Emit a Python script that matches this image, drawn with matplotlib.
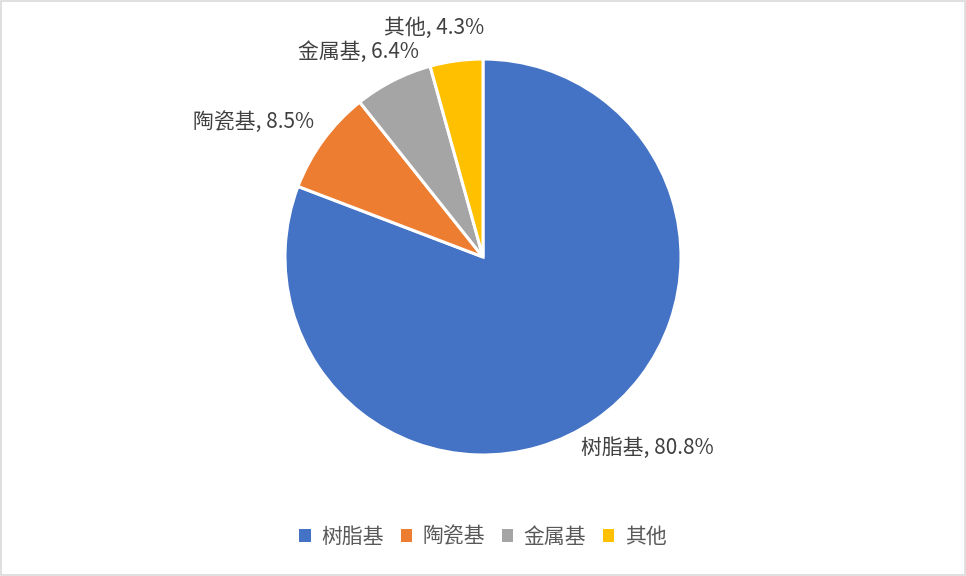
import matplotlib
matplotlib.use("Agg")
import matplotlib.pyplot as plt
from matplotlib.patches import Patch, Rectangle

plt.rcParams['font.family'] = ['Noto Sans CJK SC', 'DejaVu Sans']

categories = ["树脂基", "陶瓷基", "金属基", "其他"]
shares = [80.8, 8.5, 6.4, 4.3]
colors = ["#4472C4", "#ED7D31", "#A5A5A5", "#FFC000"]
label_pos = [(0.83, -0.965), (-1.157, 0.682), (-0.631, 1.035), (-0.247, 1.157)]

fig = plt.figure(figsize=(9.66, 5.76), dpi=100)
fig.patch.set_facecolor("white")
fig.add_artist(Rectangle((0.001, 0.001), 0.998, 0.997, transform=fig.transFigure,
                         fill=False, edgecolor="#d9d9d9", linewidth=1.2))

cx, cy, r = 483, 576 - 257, 198
ax = fig.add_axes([(cx - r) / 966, (cy - r) / 576, 2 * r / 966, 2 * r / 576])
wedges, texts = ax.pie(shares, colors=colors, startangle=90, counterclock=False,
                       labels=[f"{c}, {v}%" for c, v in zip(categories, shares)],
                       wedgeprops=dict(edgecolor="white", linewidth=2.2),
                       textprops=dict(fontsize=15, color="#404040"))
for t, (x, y) in zip(texts, label_pos):
    t.set_position((x, y))
    t.set_ha("center")
    t.set_va("center")
    t.set_clip_on(False)
ax.set_xlim(-1, 1)
ax.set_ylim(-1, 1)
ax.set_aspect("equal")
ax.axis("off")

handles = [Patch(facecolor=c, edgecolor="none") for c in colors]
leg = fig.legend(handles, categories, loc="center", bbox_to_anchor=(0.5, 1 - 537 / 576),
                 ncol=4, frameon=False, fontsize=15, handlelength=0.55, handleheight=0.55,
                 handletextpad=0.5, columnspacing=0.8)
for t in leg.get_texts():
    t.set_color("#595959")

fig.savefig("out.png", dpi=100, facecolor="white")
